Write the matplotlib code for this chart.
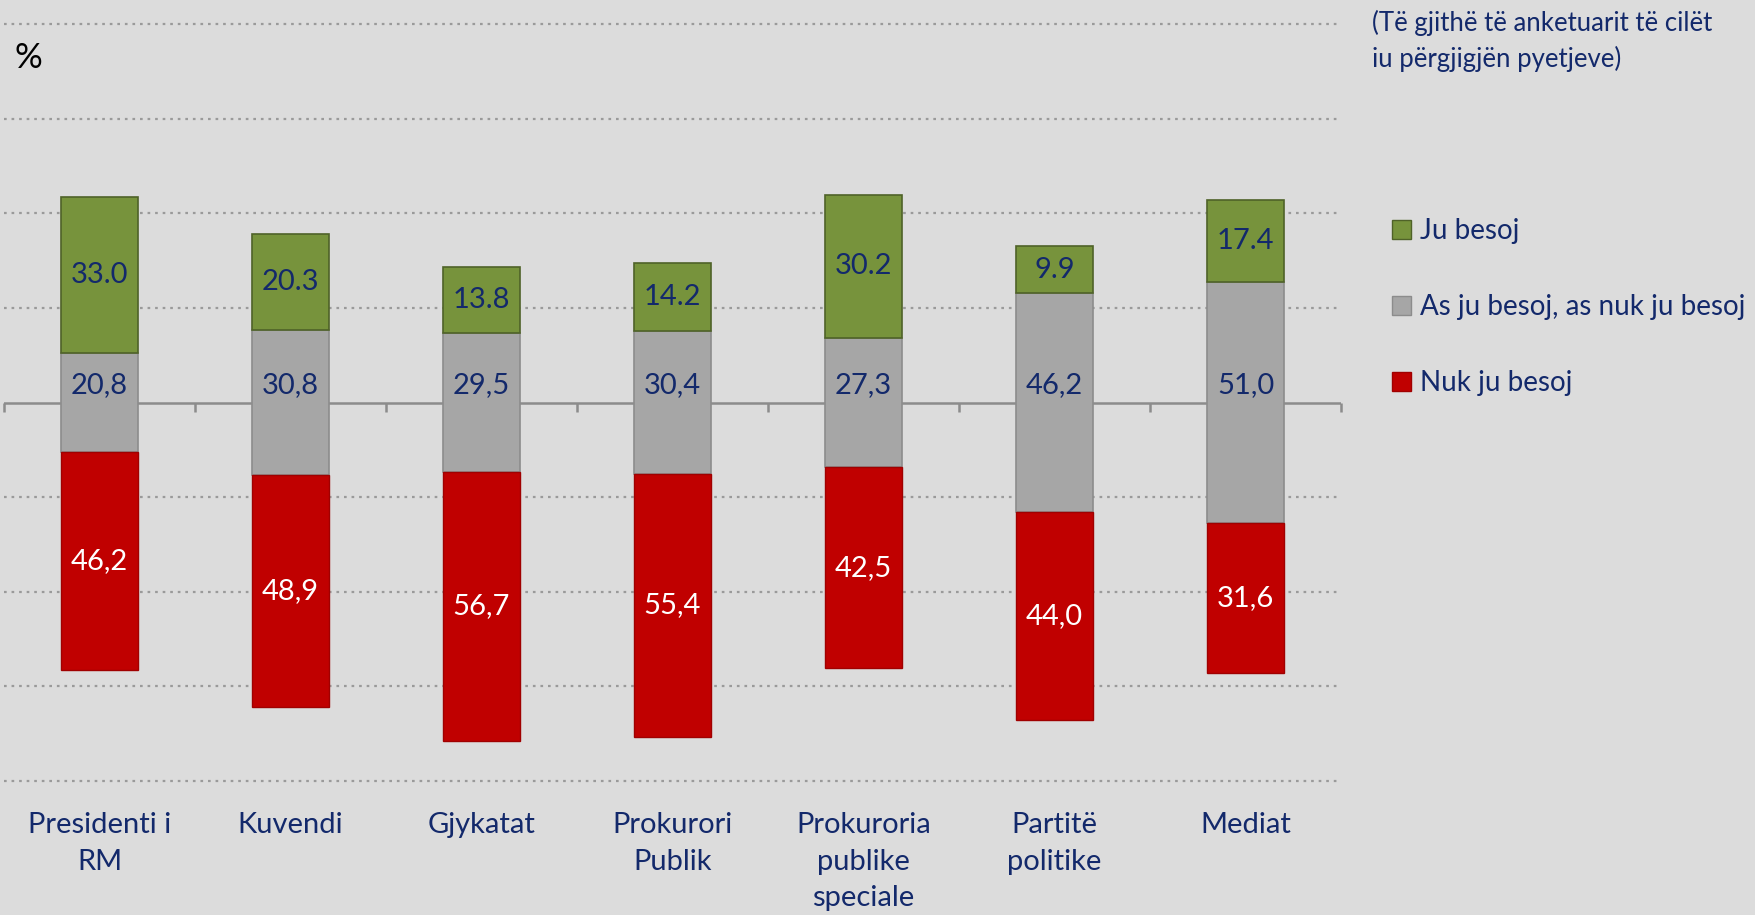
import numpy as np
import matplotlib.pyplot as plt
from matplotlib.patches import Patch

plt.rcParams['font.family'] = ['Lato', 'DejaVu Sans']

categories = ["Presidenti i\nRM", "Kuvendi", "Gjykatat", "Prokurori\nPublik",
              "Prokuroria\npublike\nspeciale", "Partitë\npolitike", "Mediat"]
ju_besoj = [33.0, 20.3, 13.8, 14.2, 30.2, 9.9, 17.4]
as_as = [20.8, 30.8, 29.5, 30.4, 27.3, 46.2, 51.0]
nuk_besoj = [46.2, 48.9, 56.7, 55.4, 42.5, 44.0, 31.6]

navy = '#13296B'
c_green = '#77933C'
c_gray = '#A6A6A6'
c_red = '#C00000'
bg = '#DCDCDC'

fig = plt.figure(figsize=(17.55, 9.15), dpi=100, facecolor=bg)
ax = fig.add_axes([4/1755, 0.1464, 1337/1755, 0.8274])
ax.set_facecolor(bg)

x = np.arange(len(categories))
g = np.array(ju_besoj)
m = np.array(as_as)
r = np.array(nuk_besoj)
w = 0.40

# neutral centred on zero, trust above, distrust below
ax.bar(x, m, w, bottom=-m/2, color=c_gray, edgecolor='#8C8C8C', linewidth=1.2, zorder=3)
ax.bar(x, g, w, bottom=m/2, color=c_green, edgecolor='#4F6228', linewidth=1.2, zorder=3)
ax.bar(x, r, w, bottom=-m/2 - r, color=c_red, edgecolor='#A00000', linewidth=1.0, zorder=3)

fs = 21
for i in range(len(x)):
    ax.text(x[i], m[i]/2 + g[i]/2, f"{g[i]:.1f}", ha='center', va='center',
            fontsize=fs, color=navy, zorder=4)
    ax.text(x[i], 3.6, f"{m[i]:.1f}".replace('.', ','), ha='center', va='center',
            fontsize=fs, color=navy, zorder=4)
    ax.text(x[i], -m[i]/2 - r[i]/2, f"{r[i]:.1f}".replace('.', ','), ha='center',
            va='center', fontsize=fs, color='white', zorder=4)

for yv in [-80, -60, -40, -20, 20, 40, 60, 80]:
    ax.axhline(yv, color='#9A9A9A', linestyle=(0, (1.2, 2.2)), linewidth=1.6,
               zorder=1, clip_on=False)
ax.axhline(0, color='#8C8C8C', linewidth=1.8, zorder=2)

ax.set_xlim(-0.5, len(x) - 0.5)
ax.set_ylim(-80, 80)
for s in ax.spines.values():
    s.set_visible(False)
ax.set_yticks([])
ax.set_xticks([])
ax.vlines(np.arange(len(x) + 1) - 0.5, -2.0, 0, color='#8C8C8C', linewidth=1.8,
          zorder=2, clip_on=False)

tr = ax.get_xaxis_transform()
for i, lab in enumerate(categories):
    ax.text(x[i], -0.041, lab, transform=tr, ha='center', va='top', fontsize=fs,
            color=navy, linespacing=1.5)

fig.text(14/1755, 1 - 58/915, '%', fontsize=25, color='black', va='center', ha='left')
fig.text(1372/1755, 1 - 41/915, '(Të gjithë të anketuarit të cilët\niu përgjigjën pyetjeve)',
         fontsize=18.5, color=navy, va='center', ha='left', linespacing=1.45)

handles = [Patch(facecolor=c_green, edgecolor='#4F6228', label='Ju besoj'),
           Patch(facecolor=c_gray, edgecolor='#8C8C8C', label='As ju besoj, as nuk ju besoj'),
           Patch(facecolor=c_red, edgecolor='#A00000', label='Nuk ju besoj')]
leg = fig.legend(handles=handles, loc='upper left', bbox_to_anchor=(1392/1755, 1 - 218/915),
                 frameon=False, fontsize=20, handlelength=0.7, handleheight=0.7,
                 handletextpad=0.3, labelspacing=1.8, borderaxespad=0, borderpad=0)
for t in leg.get_texts():
    t.set_color(navy)

fig.savefig('out.png', dpi=100, facecolor=bg)
